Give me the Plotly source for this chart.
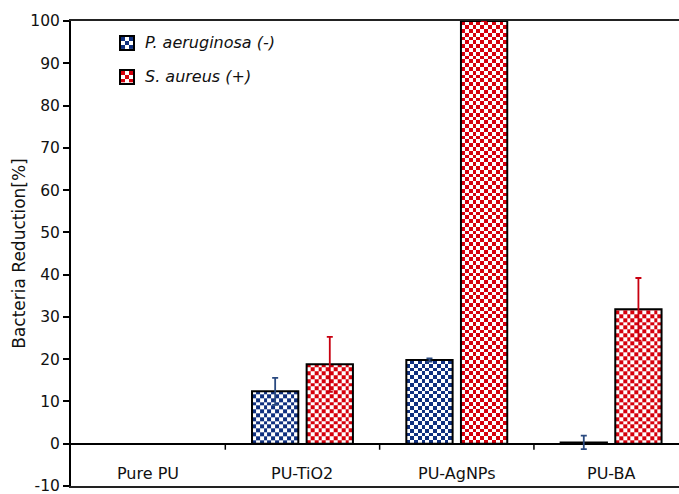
import numpy as np
import plotly.graph_objects as go

# ---------------- data ----------------
categories = ["Pure PU", "PU-TiO2", "PU-AgNPs", "PU-BA"]
series_names = ["P. aeruginosa (-)", "S. aureus (+)"]
pa_values = [0.0, 12.4, 19.8, 0.3]
pa_errors = [0.0, 3.2, 0.4, 1.6]
sa_values = [0.0, 18.8, 100.0, 31.8]
sa_errors = [0.0, 6.5, 0.0, 7.4]
y_ticks = list(range(-10, 101, 10))
y_tick_labels = [str(v) for v in y_ticks]

# ---------------- style ----------------
BLUE = "#10307f"
RED = "#d6000c"
BLUE_ERR = "#2a4a80"
RED_ERR = "#c80010"
FONT = "DejaVu Sans"
BAR_W = 0.3
OFFSET = 0.177
CELL_COLS = 12
CELL_H = 0.9

fig = go.Figure()

series = [
    (series_names[0], pa_values, pa_errors, BLUE, BLUE_ERR, -OFFSET),
    (series_names[1], sa_values, sa_errors, RED, RED_ERR, OFFSET),
]


def checker(nr, nc):
    return [[(r + c + 1) % 2 for c in range(nc)] for r in range(nr)]


# checkerboard fill of each bar (heatmap clipped to the bar rectangle)
for name, vals, errs, col, ecol, off in series:
    for i, v in enumerate(vals):
        if v <= 0:
            continue
        cx = i + off
        xe = np.linspace(cx - BAR_W / 2, cx + BAR_W / 2, CELL_COLS + 1)
        ye = np.arange(0, v, CELL_H)
        ye = np.append(ye, v)
        z = checker(len(ye) - 1, CELL_COLS)
        fig.add_trace(go.Heatmap(
            x=xe, y=ye, z=z, zmin=0, zmax=1,
            colorscale=[[0, "white"], [1, col]],
            showscale=False, hoverinfo="skip", zsmooth=False,
        ))

# bar outlines + error bars (zero-height bars drawn without outline/cap)
for name, vals, errs, col, ecol, off in series:
    xs = [i + off for i in range(len(categories)) if vals[i] > 0]
    ys = [v for v in vals if v > 0]
    es = [e if e > 0 else None for v, e in zip(vals, errs) if v > 0]
    fig.add_trace(go.Bar(
        x=xs, y=ys, width=BAR_W, name=name, showlegend=False,
        marker=dict(color="rgba(0,0,0,0)", line=dict(color="black", width=2)),
        error_y=dict(type="data", array=es, visible=True,
                     color=ecol, thickness=1.8, width=3),
    ))

# legend swatches (3x3 checker) in small axes
sw_domains = [[0.9400, 0.9658], [0.8675, 0.8935]]
for k, (name, vals, errs, col, ecol, off) in enumerate(series):
    ax = k + 2
    fig.add_trace(go.Heatmap(
        z=checker(3, 3), zmin=0, zmax=1,
        colorscale=[[0, "white"], [1, col]],
        showscale=False, hoverinfo="skip",
        xaxis=f"x{ax}", yaxis=f"y{ax}",
    ))
    axstyle = dict(range=[-0.5, 2.5], showticklabels=False, ticks="",
                   showgrid=False, zeroline=False, showline=True,
                   mirror=True, linecolor="black", linewidth=1.5,
                   fixedrange=True)
    fig.update_layout(**{
        f"xaxis{ax}": dict(domain=[0.0822, 0.1020], anchor=f"y{ax}", **axstyle),
        f"yaxis{ax}": dict(domain=sw_domains[k], anchor=f"x{ax}", **axstyle),
    })
    fig.add_annotation(
        x=0.1185, y=sum(sw_domains[k]) / 2, xref="paper", yref="paper",
        text=f"<i>{name}</i>", showarrow=False, xanchor="left", yanchor="middle",
        font=dict(family=FONT, size=16, color="#111"),
    )

# category boundary ticks on the zero line
for i in range(len(categories) - 1):
    fig.add_shape(type="line", xref="x", yref="y", x0=i + 0.5, x1=i + 0.5,
                  ysizemode="pixel", yanchor=0, y0=0, y1=-6,
                  line=dict(color="black", width=1.5))

# category labels
for i, c in enumerate(categories):
    fig.add_annotation(x=i, y=-7.1, xref="x", yref="y", text=c, showarrow=False,
                       xanchor="center", yanchor="middle",
                       font=dict(family=FONT, size=16, color="#111"))

fig.update_layout(
    width=679, height=494,
    margin=dict(l=71, r=0, t=21, b=8, autoexpand=False),
    paper_bgcolor="white", plot_bgcolor="white",
    barmode="overlay",
    showlegend=False,
    xaxis=dict(range=[-0.5, 3.44], showticklabels=False, ticks="",
               showgrid=False, zeroline=False, showline=True, mirror=True,
               linecolor="#222", linewidth=2, fixedrange=True,
               automargin=False),
    yaxis=dict(range=[-10, 100], tickvals=y_ticks, ticktext=y_tick_labels,
               ticks="outside", automargin=False,
               ticklen=6, tickwidth=1.5, tickcolor="black",
               ticklabeloverflow="allow",
               tickfont=dict(family=FONT, size=15.5, color="#111"),
               showgrid=False, zeroline=True, zerolinecolor="black",
               zerolinewidth=2, showline=True, linecolor="black",
               linewidth=2, fixedrange=True,
               title=dict(text="Bacteria Reduction[%]", standoff=0,
                          font=dict(family=FONT, size=17, color="#111"))),
)

fig.write_html("out.html")
